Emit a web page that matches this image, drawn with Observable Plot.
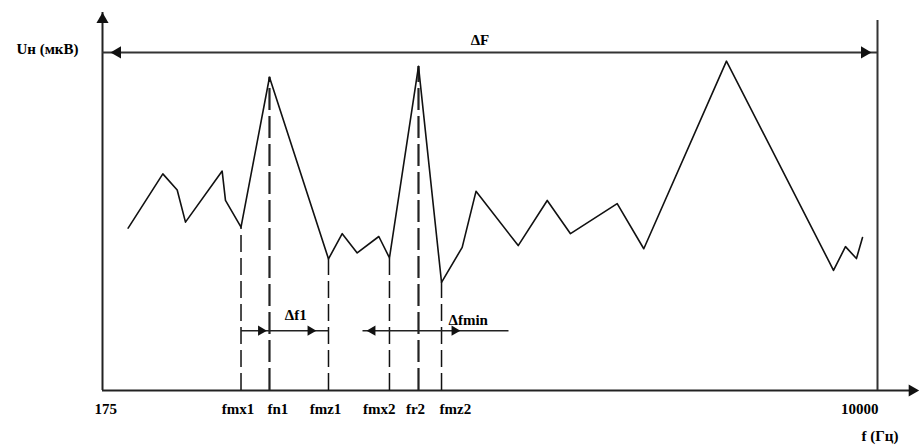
<!DOCTYPE html>
<html>
<head>
<meta charset="utf-8">
<script src="https://cdn.jsdelivr.net/npm/d3@7"></script>
<script src="https://cdn.jsdelivr.net/npm/@observablehq/plot@0.6"></script>
<style>
  html, body { margin: 0; padding: 0; background: #fff; }
  #chart svg { display: block; }
</style>
</head>
<body>
<div id="chart"></div>
<script>
// Spectrum curve: frequency (Hz) and level (relative, 0..100)
const freq  = [500, 940, 1122, 1227, 1692, 1734, 1931, 2292, 3040, 3214, 3404, 3678, 3813, 4181, 4473, 4735, 4910, 5445, 5813, 6108, 6700, 7037, 8085, 9391, 9442, 9594, 9733, 9810];
const level = [46.4, 61.9, 57.3, 48.1, 62.7, 54.3, 46.7, 89.5, 37.6, 44.8, 39.3, 44.0, 37.9, 92.6, 30.9, 40.9, 56.9, 41.4, 54.3, 44.8, 53.4, 40.5, 94.1, 36.6, 34.3, 41.1, 37.7, 43.7];

// Marked frequencies (dashed verticals)
const markerNames = ["fmx1", "fn1", "fmz1", "fmx2", "fr2", "fmz2"];
const markerFreq  = [1931, 2292, 3040, 3813, 4181, 4473];
const markerMain  = [false, true, false, false, true, false];

// Axis range and end tick labels
const fMin = 175, fMax = 10000;
const endTickLabels = ["175", "10000"];

// Annotation spans
const spanLabels = ["Δf1", "Δfmin"];
const spanFrom   = [1931, 3471];
const spanTo     = [3040, 5322];
const spanLevel  = 17.1;
const fullRangeLevel = 96.6;
const fullRangeLabel = "ΔF";

const yLabel = "Uн (мкВ)";
const xLabel = "f (Гц)";

const curve = freq.map((f, i) => ({f, v: level[i]}));
const markers = markerNames.map((name, i) => ({
  name, f: markerFreq[i], main: markerMain[i],
  top: level[freq.indexOf(markerFreq[i])]
}));
const spans = spanLabels.map((label, i) => ({label, from: spanFrom[i], to: spanTo[i]}));

const font = "Liberation Serif, Times New Roman, serif";
const fs = 15;

const chart = Plot.plot({
  width: 922,
  height: 448,
  marginLeft: 102,
  marginRight: 45,
  marginTop: 40,
  marginBottom: 58,
  style: {fontFamily: font, fontSize: fs + "px", fontWeight: "bold", background: "white", overflow: "visible"},
  x: {type: "linear", domain: [fMin, fMax], axis: null},
  y: {type: "linear", domain: [0, 100], axis: null},
  marks: [
    // axes
    Plot.ruleX([fMin], {y1: 0, y2: 108, stroke: "#222", strokeWidth: 2}),
    Plot.ruleY([0], {x1: fMin, x2: 10500, stroke: "#222", strokeWidth: 2}),
    Plot.ruleX([fMax], {y1: 0, y2: 105.7, stroke: "#333", strokeWidth: 2}),
    Plot.dot([{f: fMin, v: 106}], {x: "f", y: "v", symbol: "triangle", rotate: 0, r: 4.5, fill: "#111", stroke: "none"}),
    Plot.dot([{f: 10440, v: 0}], {x: "f", y: "v", symbol: "triangle", rotate: 90, r: 4.5, fill: "#111", stroke: "none"}),

    // full range ΔF
    Plot.ruleY([fullRangeLevel], {x1: fMin, x2: fMax, stroke: "#333", strokeWidth: 2}),
    Plot.dot([{f: fMin, v: fullRangeLevel}], {x: "f", y: "v", dx: 15, symbol: "triangle", rotate: -90, r: 4.5, fill: "#111", stroke: "none"}),
    Plot.dot([{f: fMax, v: fullRangeLevel}], {x: "f", y: "v", dx: -13, symbol: "triangle", rotate: 90, r: 4.5, fill: "#111", stroke: "none"}),
    Plot.text([fullRangeLabel], {x: (fMin + fMax) / 2, y: fullRangeLevel, dx: -10, dy: -12, text: d => d, fontSize: 15}),

    // dashed markers
    Plot.ruleX(markers.filter(d => !d.main), {x: "f", y1: 0, y2: "top", stroke: "#111", strokeWidth: 1.5, strokeDasharray: "17,6"}),
    Plot.ruleX(markers.filter(d => d.main), {x: "f", y1: 0, y2: "top", stroke: "#222", strokeWidth: 2.2, strokeDasharray: "22,6"}),

    // spectrum curve
    Plot.line(curve, {x: "f", y: "v", stroke: "#111", strokeWidth: 1.6}),

    // spans
    Plot.link(spans, {x1: "from", x2: "to", y1: spanLevel, y2: spanLevel, stroke: "#222", strokeWidth: 1.5}),
    Plot.dot([spans[0]], {x: "from", y: spanLevel, dx: 20, symbol: "triangle", rotate: 90, r: 3.8, fill: "#111", stroke: "none"}),
    Plot.dot([spans[0]], {x: "to", y: spanLevel, dx: -18, symbol: "triangle", rotate: 90, r: 3.8, fill: "#111", stroke: "none"}),
    Plot.dot([spans[1]], {x: "from", y: spanLevel, dx: 10, symbol: "triangle", rotate: -90, r: 3.8, fill: "#111", stroke: "none"}),
    Plot.dot([spans[1]], {x: "from", y: spanLevel, dx: 92, symbol: "triangle", rotate: 90, r: 3.8, fill: "#111", stroke: "none"}),
    Plot.text([spans[0]], {x: d => (d.from + d.to) / 2, y: spanLevel, dx: 11, dy: -15, text: "label", fontSize: 15}),
    Plot.text([spans[1]], {x: "from", y: spanLevel, dx: 86, dy: -10, text: "label", textAnchor: "start", fontSize: 15}),

    // marker labels
    Plot.text(markers.filter(d => ["fmx1", "fmz1", "fr2"].includes(d.name)), {x: "f", y: 0, dy: 19, dx: -3, text: "name", textAnchor: "middle", fontSize: fs}),
    Plot.text(markers.filter(d => ["fn1", "fmz2"].includes(d.name)), {x: "f", y: 0, dy: 19, dx: -2, text: "name", textAnchor: "start", fontSize: fs}),
    Plot.text(markers.filter(d => d.name === "fmx2"), {x: "f", y: 0, dy: 19, dx: 6, text: "name", textAnchor: "end", fontSize: fs}),

    // end tick labels
    Plot.text([endTickLabels[0]], {x: fMin, y: 0, dx: -8, dy: 19, text: d => d, textAnchor: "start", fontSize: fs}),
    Plot.text([endTickLabels[1]], {x: fMax, y: 0, dx: 1, dy: 19, text: d => d, textAnchor: "end", fontSize: fs}),

    // axis titles
    Plot.text([xLabel], {x: fMax, y: 0, dx: 21, dy: 46, text: d => d, textAnchor: "end", fontSize: fs}),
    Plot.text([yLabel], {x: fMin, y: fullRangeLevel, dx: -24, dy: -3, text: d => d, textAnchor: "end", fontSize: fs})
  ]
});

document.getElementById("chart").appendChild(chart);
</script>
</body>
</html>
